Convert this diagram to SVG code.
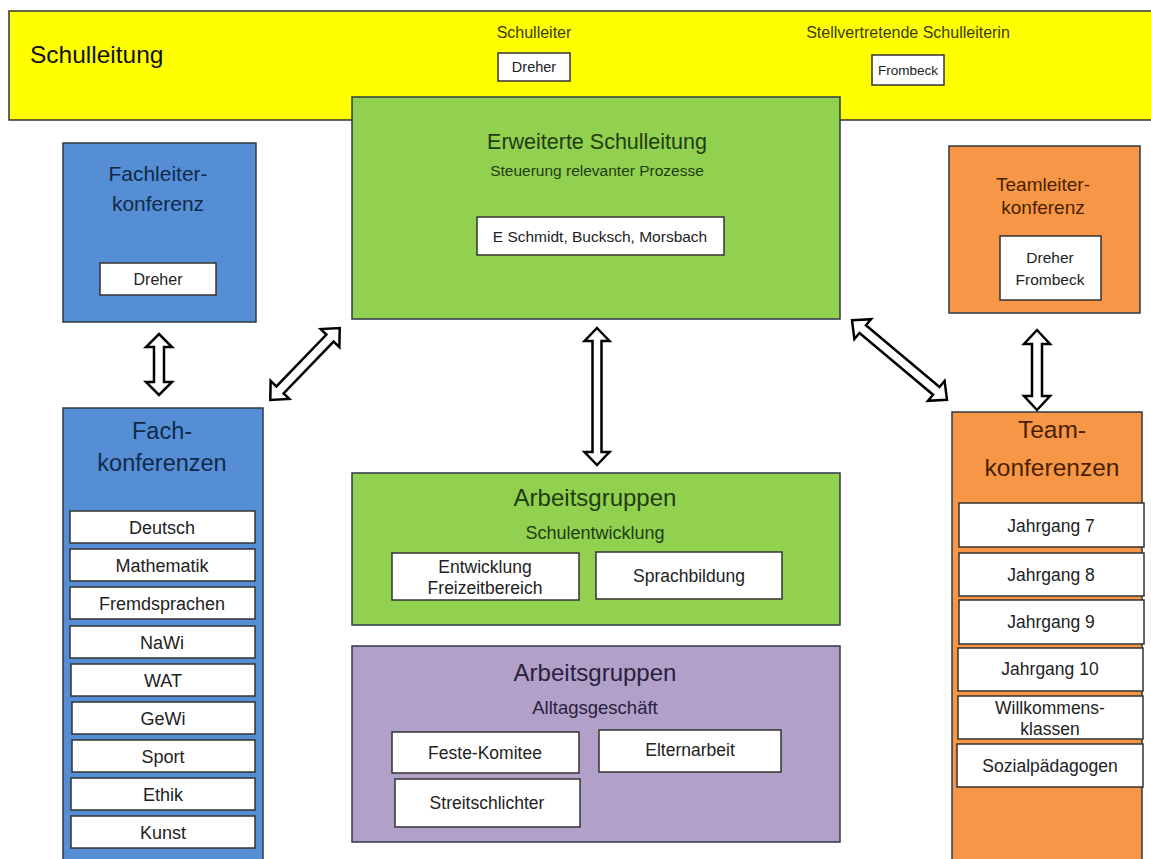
<svg xmlns="http://www.w3.org/2000/svg" width="1151" height="859" viewBox="0 0 1151 859">
<style>
text{font-family:"Liberation Sans",Arial,sans-serif;text-anchor:middle}
.box{stroke:#2e3a46;stroke-width:1.5}
.yellow{fill:#ffff00;stroke:#333}
.green{fill:#92d050}
.blue{fill:#558ed5}
.orange{fill:#f79646}
.purple{fill:#b1a0c7}
.w{fill:#fff;stroke:#333;stroke-width:1.5}
.t{fill:#222;font-size:17.5px}
.f{fill:#222;font-size:18px}
.arr{fill:#fff;stroke:#000;stroke-width:2.5;stroke-linejoin:miter}
</style>
<rect width="1151" height="859" fill="#fff"/>
<g id="schulleitung">
<rect class="box yellow" x="9" y="11" width="1150" height="109"/>
<text x="30" y="63" style="text-anchor:start;font-size:24.5px;fill:#111">Schulleitung</text>
<text x="534" y="38" style="font-size:16px;fill:#3b3b10">Schulleiter</text>
<rect class="w" x="498" y="53" width="72" height="28"/>
<text class="t" x="534" y="72" style="font-size:14.5px">Dreher</text>
<text x="908" y="38" style="font-size:16px;fill:#3b3b10">Stellvertretende Schulleiterin</text>
<rect class="w" x="872" y="55" width="72" height="30"/>
<text class="t" x="908" y="75" style="font-size:13.5px">Frombeck</text>
</g>
<g id="erweiterte">
<rect class="box green" x="352" y="97" width="488" height="222"/>
<text x="597" y="149" style="font-size:21.5px;fill:#1f3d10">Erweiterte Schulleitung</text>
<text x="597" y="176" style="font-size:15.5px;fill:#1f3d10">Steuerung relevanter Prozesse</text>
<rect class="w" x="477" y="217" width="247" height="38"/>
<text class="t" x="600" y="242" style="font-size:15.5px">E Schmidt, Bucksch, Morsbach</text>
</g>
<g id="fachleiter">
<rect class="box blue" x="63" y="143" width="193" height="179"/>
<text x="158" y="181" style="font-size:21px;fill:#112a4a">Fachleiter-</text>
<text x="158" y="211" style="font-size:21px;fill:#112a4a">konferenz</text>
<rect class="w" x="100" y="263" width="116" height="32"/>
<text class="t" x="158" y="285" style="font-size:16px">Dreher</text>
</g>
<g id="teamleiter">
<rect class="box orange" x="949" y="146" width="191" height="167"/>
<text x="1043" y="191" style="font-size:19px;fill:#4a1f00">Teamleiter-</text>
<text x="1043" y="214" style="font-size:19px;fill:#4a1f00">konferenz</text>
<rect class="w" x="1000" y="236" width="101" height="64"/>
<text class="t" x="1050" y="263" style="font-size:15.5px">Dreher</text>
<text class="t" x="1050" y="285" style="font-size:15.5px">Frombeck</text>
</g>
<g id="fachkonferenzen">
<rect class="box blue" x="63" y="408" width="200" height="460"/>
<text x="162" y="439" style="font-size:23.5px;fill:#112a4a">Fach-</text>
<text x="162" y="471" style="font-size:23.5px;fill:#112a4a">konferenzen</text>
<rect class="w" x="70" y="511" width="185" height="32"/><text class="f" x="162" y="534">Deutsch</text>
<rect class="w" x="70" y="549" width="185" height="32"/><text class="f" x="162" y="572">Mathematik</text>
<rect class="w" x="70" y="587" width="185" height="32"/><text class="f" x="162" y="610">Fremdsprachen</text>
<rect class="w" x="70" y="626" width="185" height="32"/><text class="f" x="162" y="649">NaWi</text>
<rect class="w" x="71" y="664" width="184" height="32"/><text class="f" x="163" y="687">WAT</text>
<rect class="w" x="72" y="702" width="183" height="32"/><text class="f" x="163" y="725">GeWi</text>
<rect class="w" x="72" y="740" width="183" height="32"/><text class="f" x="163" y="763">Sport</text>
<rect class="w" x="71" y="778" width="184" height="32"/><text class="f" x="163" y="801">Ethik</text>
<rect class="w" x="71" y="816" width="184" height="32"/><text class="f" x="163" y="839">Kunst</text>
</g>
<g id="teamkonferenzen">
<rect class="box orange" x="952" y="412" width="190" height="460"/>
<text x="1052" y="438" style="font-size:24.5px;fill:#4a1f00">Team-</text>
<text x="1052" y="476" style="font-size:24.5px;fill:#4a1f00">konferenzen</text>
<rect class="w" x="959" y="503" width="185" height="44"/><text class="t" x="1051" y="532">Jahrgang 7</text>
<rect class="w" x="959" y="553" width="185" height="43"/><text class="t" x="1051" y="581">Jahrgang 8</text>
<rect class="w" x="959" y="600" width="185" height="44"/><text class="t" x="1051" y="628">Jahrgang 9</text>
<rect class="w" x="958" y="648" width="185" height="43"/><text class="t" x="1050" y="675">Jahrgang 10</text>
<rect class="w" x="958" y="696" width="185" height="43"/><text class="t" x="1050" y="714">Willkommens-</text><text class="t" x="1050" y="735">klassen</text>
<rect class="w" x="957" y="744" width="186" height="43"/><text class="t" x="1050" y="772">Sozialpädagogen</text>
</g>
<g id="ag-schulentwicklung">
<rect class="box green" x="352" y="473" width="488" height="152"/>
<text x="595" y="506" style="font-size:24px;fill:#1f3d10">Arbeitsgruppen</text>
<text x="595" y="539" style="font-size:18px;fill:#1f3d10">Schulentwicklung</text>
<rect class="w" x="392" y="553" width="187" height="47"/>
<text class="t" x="485" y="573">Entwicklung</text>
<text class="t" x="485" y="594">Freizeitbereich</text>
<rect class="w" x="596" y="552" width="186" height="47"/>
<text class="t" x="689" y="582">Sprachbildung</text>
</g>
<g id="ag-alltag">
<rect class="box purple" x="352" y="646" width="488" height="196"/>
<text x="595" y="681" style="font-size:24px;fill:#2a2040">Arbeitsgruppen</text>
<text x="595" y="714" style="font-size:18.5px;fill:#2a2040">Alltagsgeschäft</text>
<rect class="w" x="392" y="732" width="187" height="41"/>
<text class="t" x="485" y="759">Feste-Komitee</text>
<rect class="w" x="599" y="730" width="182" height="42"/>
<text class="t" x="690" y="756">Elternarbeit</text>
<rect class="w" x="395" y="779" width="185" height="48"/>
<text class="t" x="487" y="809">Streitschlichter</text>
</g>
<g id="connectors">
<path class="arr" d="M159,334 L172,347 L164,347 L164,382 L172,382 L159,395 L146,382 L154,382 L154,347 L146,347 Z"/>
<path class="arr" d="M597,328 L609.5,341 L601.5,341 L601.5,452 L609.5,452 L597,465 L584.5,452 L592.5,452 L592.5,341 L584.5,341 Z"/>
<path class="arr" d="M1037,330 L1050,344 L1042,344 L1042,396 L1050,396 L1037,410 L1024,396 L1032,396 L1032,344 L1024,344 Z"/>
<path class="arr" transform="translate(305,364) rotate(44)" d="M0,-50 L13,-36 L5,-36 L5,36 L13,36 L0,50 L-13,36 L-5,36 L-5,-36 L-13,-36 Z"/>
<path class="arr" transform="translate(899.5,360) rotate(-50)" d="M0,-62 L13,-48 L5,-48 L5,48 L13,48 L0,62 L-13,48 L-5,48 L-5,-48 L-13,-48 Z"/>
</g>
</svg>
